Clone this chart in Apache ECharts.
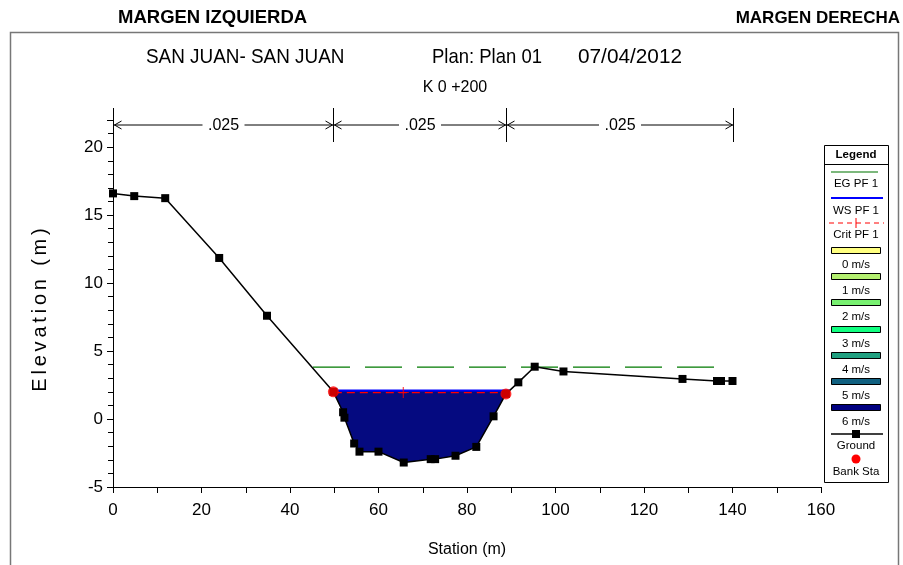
<!DOCTYPE html>
<html><head><meta charset="utf-8">
<script src="https://cdn.jsdelivr.net/npm/echarts@6/dist/echarts.min.js"></script>
<style>html,body{margin:0;padding:0;background:#fff}#c{width:903px;height:565px}</style>
</head><body><div id="c"></div>
<script>
// Cross section K 0+200 — ground profile and water surface profile PF 1
const stations   = [0, 4.8, 11.8, 24, 34.8, 49.8, 52, 52.3, 54.5, 55.7, 60, 65.7, 71.8, 72.8, 77.4, 82.1, 86, 88.8, 91.6, 95.3, 101.8, 128.7, 136.5, 137.4, 140];
const elevations = [16.6, 16.4, 16.25, 11.85, 7.6, 2.0, 0.5, 0.1, -1.8, -2.4, -2.4, -3.2, -2.95, -2.95, -2.7, -2.05, 0.2, 1.85, 2.7, 3.85, 3.5, 2.95, 2.8, 2.8, 2.8];

const bankStations   = [49.8, 88.8];
const bankElevations = [2.0, 1.85];

const wsElevation = 2.1;
const wsEdges = [49.5, 89.6];
const critElevation = 1.95;
const critEdges = [49.9, 89.1];
const critMarkStation = 65.6;
const egElevation = 3.82;
const egEdges = [45.2, 139];

const nValues = ['.025', '.025', '.025'];
const nBreaks = [0, 49.8, 88.8, 140];

const legendLabels = ['0 m/s', '1 m/s', '2 m/s', '3 m/s', '4 m/s', '5 m/s', '6 m/s'];
const legendColors = ['#ffff80', '#b4f070', '#78f070', '#10ff80', '#20a080', '#106080', '#000080'];

const FONT = '"Liberation Sans", Arial, sans-serif';
const WATER = '#050a80';

// polygon of the wetted area: water edges along the surface, ground points below
const waterPoly = [[wsEdges[0], wsElevation]];
stations.forEach((s, i) => { if (s > wsEdges[0] && s < wsEdges[1]) waterPoly.push([s, elevations[i]]); });
waterPoly.push([wsEdges[1], wsElevation]);

const ground = stations.map((s, i) => [s, elevations[i]]);
const banks = bankStations.map((s, i) => [s, bankElevations[i]]);

const chart = echarts.init(document.getElementById('c'));

chart.setOption({
  animation: false,
  backgroundColor: '#fff',
  grid: { left: 113, right: 82, top: 120, bottom: 78 },
  xAxis: {
    type: 'value', min: 0, max: 160, interval: 10,
    name: 'Station (m)', nameLocation: 'middle', nameGap: 55,
    nameTextStyle: { fontFamily: FONT, fontSize: 16, color: '#000' },
    axisLine: { onZero: false, lineStyle: { color: '#000', width: 1 } },
    axisTick: { show: true, length: 6, inside: false, lineStyle: { color: '#000' } },
    axisLabel: { fontFamily: FONT, fontSize: 17, color: '#000', margin: 15,
      formatter: v => (v % 20 === 0 ? String(v) : '') },
    splitLine: { show: false }
  },
  yAxis: {
    type: 'value', min: -5, max: 22, interval: 5,
    axisLine: { onZero: false, lineStyle: { color: '#000', width: 1 } },
    axisTick: { show: true, length: 6, lineStyle: { color: '#000' } },
    minorTick: { show: true, splitNumber: 5, length: 5, lineStyle: { color: '#000' } },
    axisLabel: { fontFamily: FONT, fontSize: 17, color: '#000', margin: 10, showMaxLabel: false },
    splitLine: { show: false }
  },
  series: [
    {
      type: 'custom', name: 'water', clip: false, silent: true, z: 1,
      data: [[0, 0]],
      renderItem: (params, api) => ({
        type: 'polygon',
        shape: { points: waterPoly.map(p => api.coord(p)) },
        style: { fill: WATER, stroke: null }
      })
    },
    {
      type: 'line', name: 'EG PF 1', z: 2, symbol: 'none',
      data: egEdges.map(s => [s, egElevation]),
      lineStyle: { color: '#007a00', width: 1.3, type: [37, 15] }
    },
    {
      type: 'line', name: 'WS PF 1', z: 3, symbol: 'none',
      data: wsEdges.map(s => [s, wsElevation]),
      lineStyle: { color: '#0000ff', width: 2 }
    },
    {
      type: 'line', name: 'Crit PF 1', z: 4, symbol: 'none',
      data: critEdges.map(s => [s, critElevation]),
      lineStyle: { color: '#ff0000', width: 1.2, type: [8, 5] }
    },
    {
      type: 'scatter', name: 'Crit mark', z: 5,
      data: [[critMarkStation, critElevation]],
      symbol: 'path://M4.5,0H5.5V10H4.5Z M0,4.5H10V5.5H0Z', symbolSize: 11,
      itemStyle: { color: '#ff0000' }
    },
    {
      type: 'line', name: 'Ground', z: 6, data: ground,
      symbol: 'rect', symbolSize: 8,
      lineStyle: { color: '#000', width: 1.5 },
      itemStyle: { color: '#000' }
    },
    {
      type: 'scatter', name: 'Bank Sta', z: 7, data: banks,
      symbol: 'circle', symbolSize: 11,
      itemStyle: { color: '#ff0000' }
    }
  ]
});

// Header texts, roughness rulers and the legend panel
const g = [];
const txt = (x, y, text, font, opts) => g.push(Object.assign({ type: 'text', x, y,
  style: { text, font, fill: '#000', textVerticalAlign: 'middle', textAlign: (opts && opts.align) || 'left' } },
  opts && opts.scaleX ? { scaleX: opts.scaleX } : {}));

g.push({ type: 'rect', shape: { x: 10.5, y: 32.5, width: 888, height: 600 },
  style: { fill: null, stroke: '#777', lineWidth: 1.5 }, z: 0 });
txt(118, 18, 'MARGEN IZQUIERDA', 'bold 18.5px ' + FONT);
txt(900, 18, 'MARGEN DERECHA', 'bold 17px ' + FONT, { align: 'right' });
txt(146, 57, 'SAN JUAN- SAN JUAN', '21px ' + FONT, { scaleX: 0.9 });
txt(432, 57, 'Plan: Plan 01', '21px ' + FONT, { scaleX: 0.88 });
txt(578, 57, '07/04/2012', '21px ' + FONT, { scaleX: 0.99 });
txt(455, 88, 'K 0 +200', '16px ' + FONT, { align: 'center' });

// vertical axis title, letter-spaced
(function () {
  const ctx = document.createElement('canvas').getContext('2d');
  const f = '20px ' + FONT;
  ctx.font = f;
  const name = 'Elevation (m)';
  const gap = 3.8;
  const w = [...name].map(ch => ctx.measureText(ch).width);
  const total = w.reduce((a, b) => a + b, 0) + gap * (w.length - 1);
  let x = -total / 2;
  const children = [];
  [...name].forEach((ch, i) => {
    children.push({ type: 'text', x, y: 0, style: { text: ch, font: f, fill: '#000', textVerticalAlign: 'middle' } });
    x += w[i] + gap;
  });
  g.push({ type: 'group', x: 40, y: 310, rotation: Math.PI / 2, children });
})();

const rulerY = 125;
const bx = nBreaks.map(s => Math.round(chart.convertToPixel({ gridIndex: 0 }, [s, 0])[0]) + 0.5);
bx.forEach(x => g.push({ type: 'line', shape: { x1: x, y1: 108, x2: x, y2: 142 }, style: { stroke: '#000', lineWidth: 1 } }));
for (let i = 0; i < nValues.length; i++) {
  const a = bx[i], b = bx[i + 1], m = (a + b) / 2;
  g.push({ type: 'line', shape: { x1: a, y1: rulerY, x2: m - 21, y2: rulerY }, style: { stroke: '#000', lineWidth: 1 } });
  g.push({ type: 'line', shape: { x1: m + 21, y1: rulerY, x2: b, y2: rulerY }, style: { stroke: '#000', lineWidth: 1 } });
  g.push({ type: 'polyline', shape: { points: [[a + 8, rulerY - 4], [a + 1, rulerY], [a + 8, rulerY + 4]] }, style: { stroke: '#000', fill: null, lineWidth: 1 } });
  g.push({ type: 'polyline', shape: { points: [[b - 8, rulerY - 4], [b - 1, rulerY], [b - 8, rulerY + 4]] }, style: { stroke: '#000', fill: null, lineWidth: 1 } });
  txt(m, rulerY + 1, nValues[i], '16px ' + FONT, { align: 'center', scaleX: 1 });
}

// legend panel
const L = 824, R = 888, cx = (L + R) / 2;
const lf = '11.5px ' + FONT;
const ltxt = (y, t) => txt(cx, y, t, lf, { align: 'center' });
g.push({ type: 'rect', shape: { x: L + 0.5, y: 145.5, width: R - L, height: 337 }, style: { fill: '#fff', stroke: '#000', lineWidth: 1 } });
g.push({ type: 'line', shape: { x1: L, y1: 164.5, x2: R, y2: 164.5 }, style: { stroke: '#000', lineWidth: 1 } });
txt(cx, 155, 'Legend', 'bold 11.5px ' + FONT, { align: 'center' });
g.push({ type: 'line', shape: { x1: 831, y1: 172, x2: 878, y2: 172 }, style: { stroke: '#50a050', lineWidth: 1.5 } });
ltxt(184, 'EG PF 1');
g.push({ type: 'line', shape: { x1: 831, y1: 198, x2: 883, y2: 198 }, style: { stroke: '#0000ff', lineWidth: 2 } });
ltxt(211, 'WS PF 1');
g.push({ type: 'line', shape: { x1: 829, y1: 223, x2: 884, y2: 223 }, style: { stroke: '#ff0000', lineWidth: 1, lineDash: [5, 4] } });
g.push({ type: 'line', shape: { x1: 856, y1: 218, x2: 856, y2: 228 }, style: { stroke: '#ff0000', lineWidth: 1 } });
ltxt(235, 'Crit PF 1');
legendLabels.forEach((lab, i) => {
  const y = Math.round(247 + i * 26.2);
  g.push({ type: 'rect', shape: { x: 831.5, y: y + 0.5, width: 49, height: 6 }, style: { fill: legendColors[i], stroke: '#000', lineWidth: 1 } });
  ltxt(y + 18, lab);
});
g.push({ type: 'line', shape: { x1: 831, y1: 434, x2: 883, y2: 434 }, style: { stroke: '#000', lineWidth: 1.5 } });
g.push({ type: 'rect', shape: { x: 852, y: 430, width: 8, height: 8 }, style: { fill: '#000' } });
ltxt(446, 'Ground');
g.push({ type: 'circle', shape: { cx: 856, cy: 459, r: 4.5 }, style: { fill: '#ff0000' } });
ltxt(472, 'Bank Sta');

chart.setOption({ graphic: g });
</script>
</body></html>
